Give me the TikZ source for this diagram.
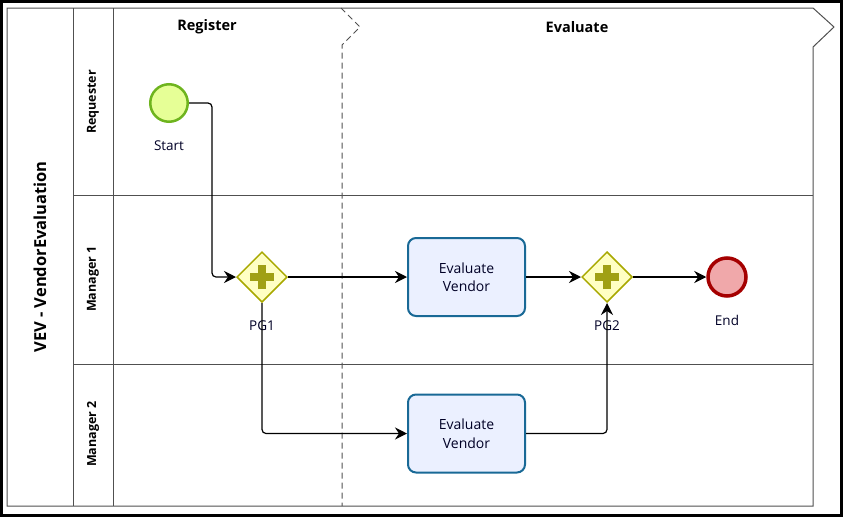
\documentclass[tikz,border=0pt]{standalone}
\usepackage{fontspec}
\setmainfont{Open Sans}
\usetikzlibrary{shapes,arrows,arrows.meta}
\definecolor{poolgray}{RGB}{80,80,80}
\definecolor{startfill}{RGB}{230,255,150}
\definecolor{startline}{RGB}{110,180,30}
\definecolor{gwfill}{RGB}{255,255,195}
\definecolor{gwline}{RGB}{168,168,0}
\definecolor{gwplus}{RGB}{160,160,20}
\definecolor{taskfill}{RGB}{235,240,255}
\definecolor{taskline}{RGB}{25,105,150}
\definecolor{endfill}{RGB}{240,168,170}
\definecolor{endline}{RGB}{165,0,0}
\tikzstyle{startev} = [draw=startline, fill=startfill, circle, line width=2.5pt,
    minimum size=37.5pt, inner sep=0pt]
\tikzstyle{endev} = [draw=endline, fill=endfill, circle, line width=3.5pt,
    minimum size=38pt, inner sep=0pt]
\tikzstyle{gateway} = [draw=gwline, fill=gwfill, diamond, line width=1.5pt,
    minimum width=50.5pt, minimum height=50.5pt, inner sep=0pt,
    path picture={\draw[gwplus, line width=8pt]
      ([xshift=-12pt]path picture bounding box.center) -- ([xshift=12pt]path picture bounding box.center)
      ([yshift=-12pt]path picture bounding box.center) -- ([yshift=12pt]path picture bounding box.center);}]
\tikzstyle{task} = [draw=taskline, fill=taskfill, rectangle, rounded corners=8pt,
    line width=2pt, minimum width=117pt, minimum height=78pt, align=center,
    text=black!85!blue, font=\fontsize{14}{18.5}\selectfont]
\tikzstyle{flow} = [draw, line width=1.2pt, rounded corners=4pt,
    -{Stealth[length=12pt, width=12pt, inset=4pt]}]
\tikzstyle{evlabel} = [text=black!85!blue, font=\fontsize{13.5}{15}\selectfont]
\tikzstyle{phasetext} = [font=\bfseries\fontsize{14.5}{16}\selectfont]
\tikzstyle{lanetext} = [rotate=90, font=\bfseries\fontsize{12.5}{14}\selectfont]
\tikzstyle{pooltext} = [rotate=90, font=\bfseries\fontsize{16.5}{18}\selectfont]

\begin{document}
\begin{tikzpicture}[x=1pt, y=-1pt]
\useasboundingbox (0,0) rectangle (843,517);
\draw[line width=3pt] (1.5,1.5) rectangle (841.5,515.5);

\draw[poolgray, line width=1pt] (7,8) -- (813,8) -- (834,27) -- (813,47) -- (813,506) -- (7,506) -- cycle;
\draw[poolgray, line width=1pt] (73,8) -- (73,506);
\draw[poolgray, line width=1pt] (113,8) -- (113,506);
\draw[poolgray, line width=1pt] (73,195) -- (813,195);
\draw[poolgray, line width=1pt] (73,364) -- (813,364);
\draw[poolgray, line width=1pt, dash pattern=on6pt off4pt] (341,8) -- (360,27) -- (342,45) -- (342,506);

\node[pooltext, name=pool] at (40,257) {VEV - VendorEvaluation};
\node[lanetext, name=requester] at (93,102) {Requester};
\node[lanetext, name=manager1] at (93,279) {Manager 1};
\node[lanetext, name=manager2] at (93,434) {Manager 2};
\node[phasetext, name=register] at (207,27) {Register};
\node[phasetext, name=evaluate] at (577,27) {Evaluate};

\node[startev, name=start] at (169,103) {};
\node[gateway, name=pg1] at (262,277) {};
\node[task, name=eval1] at (466.5,277) {Evaluate\\Vendor};
\node[task, name=eval2] at (466.5,433.5) {Evaluate\\Vendor};
\node[gateway, name=pg2] at (607,277) {};
\node[endev, name=finish] at (727,277) {};

\node[evlabel, name=startlbl] at (169,146) {Start};
\node[evlabel, name=pg1lbl] at (262,326) {PG1};
\node[evlabel, name=pg2lbl] at (607,326) {PG2};
\node[evlabel, name=finishlbl] at (727,320) {End};

\draw[flow] (start.east) -- ++(23,0) |- (pg1.west);
\draw[flow] (pg1.east) -- (eval1.west);
\draw[flow] (pg1.south) |- (eval2.west);
\draw[flow] (eval1.east) -- (pg2.west);
\draw[flow] (eval2.east) -| (pg2.south);
\draw[flow] (pg2.east) -- (finish.west);
\end{tikzpicture}
\end{document}
